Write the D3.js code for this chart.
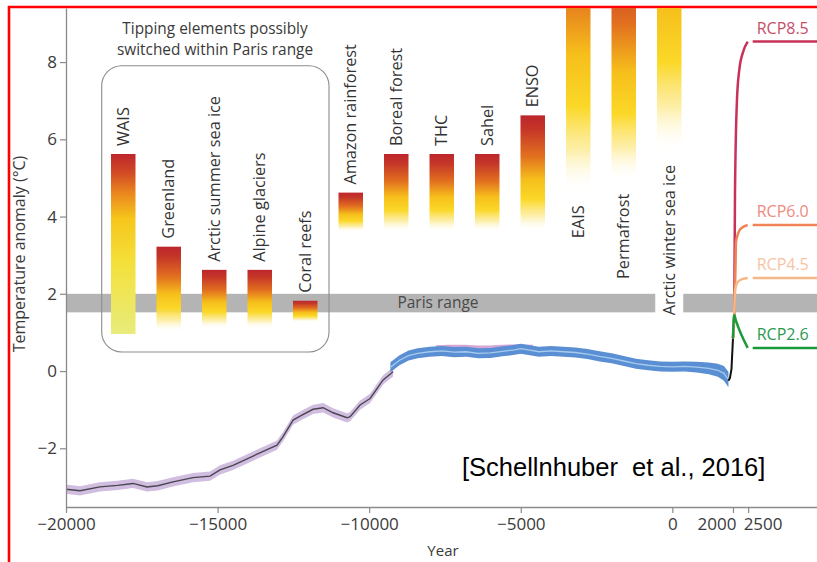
<!DOCTYPE html>
<html><head><meta charset="utf-8">
<script src="https://cdn.jsdelivr.net/npm/d3@7"></script>
<style>
body{margin:0;background:#fff}
svg{display:block}
</style>
</head><body><svg id="chart" width="817" height="562"></svg>
<script>
// ---------- data ----------
const elements = ["WAIS","Greenland","Arctic summer sea ice","Alpine glaciers","Coral reefs",
  "Amazon rainforest","Boreal forest","THC","Sahel","ENSO","EAIS","Permafrost","Arctic winter sea ice"];
const elementHigh = [5.62,3.22,2.62,2.62,1.82,4.62,5.62,5.62,5.62,6.62,12.6,11.2,14.0];
const elementLow  = [0.96,1.0,1.1,1.1,1.27,3.6,3.6,3.6,3.6,3.6,4.6,4.9,5.65];
const clippedElements = ["EAIS","Permafrost","Arctic winter sea ice"];
const parisRange = [1.52, 2.0];
const xTicks = [-20000,-15000,-10000,-5000,0,2000,2500];
const yTicks = [-2,0,2,4,6,8];

const deglacialYears = [-20000,-19540,-18880,-18300,-17790,-17330,-16970,-16470,-15810,-15250,-14920,-14490,-13830,-13040,-12840,-12510,-12220,-11850,-11520,-11190,-10730,-10630,-10300,-9970,-9540,-9210];
const deglacialTemp  = [-3.06,-3.10,-3.0,-2.96,-2.91,-3.0,-2.97,-2.87,-2.76,-2.72,-2.56,-2.44,-2.20,-1.92,-1.70,-1.27,-1.14,-0.99,-0.95,-1.08,-1.21,-1.18,-0.88,-0.71,-0.23,-0.02];

const overlapYears = [-7800,-7000,-6200,-5400,-4600];
const overlapTemp  = [0.55,0.56,0.54,0.57,0.56];

const holoceneYears = [-9300,-9000,-8700,-8400,-8000,-7600,-7200,-6800,-6400,-6000,-5600,-5200,-5000,-4700,-4400,-4000,-3600,-3200,-2800,-2400,-2000,-1600,-1200,-800,-400,0,400,800,1200,1500,1700,1850];
const holoceneTemp  = [0.10,0.28,0.40,0.46,0.50,0.52,0.49,0.50,0.46,0.47,0.51,0.55,0.58,0.54,0.50,0.52,0.50,0.48,0.44,0.38,0.33,0.26,0.19,0.15,0.12,0.11,0.12,0.10,0.07,0.02,-0.06,-0.22];
const holoceneSpread= [0.13,0.13,0.13,0.13,0.13,0.13,0.13,0.13,0.13,0.13,0.13,0.13,0.13,0.13,0.13,0.13,0.13,0.13,0.13,0.13,0.13,0.13,0.13,0.13,0.13,0.13,0.13,0.14,0.15,0.17,0.19,0.2];

const instrumentalYears = [1850,1900,1950,2000];
const instrumentalTemp  = [-0.25,-0.18,0.05,0.85];

const rcpNames = ["RCP8.5","RCP6.0","RCP4.5","RCP2.6"];
const rcpYears = [
  [2000,2040,2066,2130,2208,2350,2485],
  [2000,2040,2080,2100,2250,2485],
  [2000,2040,2070,2150,2300,2485],
  [2000,2040,2100,2485]
];
const rcpTemps = [
  [0.85,1.45,4.6,7.0,7.8,8.3,8.53],
  [0.85,1.45,2.6,3.35,3.68,3.78],
  [0.85,1.45,2.1,2.3,2.38,2.41],
  [0.85,1.45,1.3,0.6]
];
const rcpLineColors = ["#c8325a","#ef8456","#f7b888","#1a9a3a"];
const rcpTextColors = ["#c64d6a","#ee8a7e","#f6c4a4","#2a9a50"];

// ---------- setup ----------
const FONT = "'Open Sans','Noto Sans',sans-serif";
const svg = d3.select("#chart").style("font-family", FONT);
const W = 817, H = 562;
const x = d3.scaleLinear().domain([-20000, 4771]).range([66, 817]);
const y = d3.scaleLinear().domain([-3.52, 9.4]).range([507, 8]);
const band = d3.scaleBand().domain(elements).range([111, 681.5]).paddingInner(0.4615).paddingOuter(0);

const defs = svg.append("defs");
defs.append("clipPath").attr("id","plotClip").append("rect")
  .attr("x",66).attr("y",y(9.4)).attr("width",W-66).attr("height",y(-3.52)-y(9.4));

// gradients
const stdStops = [
  [0,"#bd262c",1],[0.12,"#c53628",1],[0.35,"#e2701f",1],[0.55,"#f6bf1b",1],
  [0.72,"#fbd828",1],[0.86,"#fce98c",0.75],[1,"#ffffff",0]];
const waisStops = [
  [0,"#bd262c",1],[0.1,"#d04824",1],[0.22,"#ea881e",1],[0.36,"#f6c61c",1],
  [0.6,"#f4e03a",1],[1,"#e8ec7c",1]];
elements.forEach((e,i)=>{
  const g = defs.append("linearGradient").attr("id","grad"+i)
    .attr("x1",0).attr("y1",0).attr("x2",0).attr("y2",1);
  (e==="WAIS"?waisStops:stdStops).forEach(s=>{
    g.append("stop").attr("offset",s[0]).attr("stop-color",s[1]).attr("stop-opacity",s[2]);
  });
});

// red frame
svg.append("path").attr("d",`M9,${H} L9,7 L${W},7`).attr("fill","none")
  .attr("stroke","#ff0000").attr("stroke-width",2.6);

// Paris range band (with gap at the Arctic winter sea ice label)
const gapC = band("Arctic winter sea ice") + band.bandwidth()/2;
const parisSegs = [[x(-20000), gapC-14],[gapC+14, W]];
svg.append("g").selectAll("rect").data(parisSegs).join("rect")
  .attr("x",d=>d[0]).attr("width",d=>d[1]-d[0])
  .attr("y",y(parisRange[1])).attr("height",y(parisRange[0])-y(parisRange[1]))
  .attr("fill","#b4b4b4");
svg.append("text").attr("x",438).attr("y",(y(parisRange[0])+y(parisRange[1]))/2)
  .attr("dy","0.35em").attr("text-anchor","middle").attr("font-size",15.5)
  .attr("fill","#4a4a4a").text("Paris range");

// rounded box
svg.append("rect").attr("x",101.7).attr("y",65.7).attr("width",227.3).attr("height",286.3)
  .attr("rx",20).attr("fill","none").attr("stroke","#8c8c8c").attr("stroke-width",1.1);
svg.append("text").attr("x",215).attr("text-anchor","middle").attr("font-size",15.4)
  .attr("fill","#3a3a3a")
  .selectAll("tspan").data(["Tipping elements possibly","switched within Paris range"]).join("tspan")
  .attr("x",215).attr("y",(d,i)=>33.5+i*21.5).text(d=>d);

// bars
const bars = svg.append("g").attr("clip-path","url(#plotClip)");
bars.selectAll("rect").data(elements).join("rect")
  .attr("x",d=>band(d)).attr("width",band.bandwidth())
  .attr("y",(d,i)=>y(elementHigh[i]))
  .attr("height",(d,i)=>y(elementLow[i])-y(elementHigh[i]))
  .attr("fill",(d,i)=>`url(#grad${i})`);

// bar labels
svg.append("g").selectAll("text").data(elements).join("text")
  .attr("transform",(d,i)=>{
    const cx = band(d)+band.bandwidth()/2;
    const clipped = clippedElements.includes(d);
    const yy = clipped ? y(elementLow[i])+12 : y(elementHigh[i])-8;
    return `translate(${cx},${yy}) rotate(-90)`;
  })
  .attr("text-anchor",d=>clippedElements.includes(d)?"end":"start")
  .attr("dy","0.35em").attr("font-size",16.3).attr("fill","#333")
  .text(d=>d);

// temperature curves
const lineGen = d3.line().x(d=>x(d[0])).y(d=>y(d[1]));
const areaGen = d3.area().x(d=>x(d[0])).y0(d=>y(d[1]-d[2])).y1(d=>y(d[1]+d[2]));

const degl = deglacialYears.map((yr,i)=>[yr,deglacialTemp[i],0.12]);
svg.append("path").attr("d",areaGen(degl)).attr("fill","#cbb6dc").attr("opacity",0.9);
const ovl = overlapYears.map((yr,i)=>[yr,overlapTemp[i],0.12]);
svg.append("path").attr("d",areaGen.curve(d3.curveMonotoneX)(ovl)).attr("fill","#d6a6d6");
areaGen.curve(d3.curveLinear);
svg.append("path").attr("d",lineGen(degl)).attr("fill","none").attr("stroke","#4a4650").attr("stroke-width",1.4);

const holo = holoceneYears.map((yr,i)=>[yr,holoceneTemp[i],holoceneSpread[i]]);
svg.append("path").attr("d",areaGen(holo)).attr("fill","#5b8fd3");
svg.append("path").attr("d",lineGen(holo)).attr("fill","none").attr("stroke","#a6cbee").attr("stroke-width",1.3);

const instr = instrumentalYears.map((yr,i)=>[yr,instrumentalTemp[i]]);
svg.append("path").attr("d",lineGen(instr)).attr("fill","none").attr("stroke","#111").attr("stroke-width",2);

// RCP scenarios
const rcpLine = d3.line().x(d=>x(d[0])).y(d=>y(d[1])).curve(d3.curveMonotoneX);
rcpNames.forEach((name,k)=>{
  const pts = rcpYears[k].map((yr,i)=>[yr,rcpTemps[k][i]]);
  const last = pts[pts.length-1];
  svg.append("path").attr("d",rcpLine(pts)).attr("fill","none")
    .attr("stroke",rcpLineColors[k]).attr("stroke-width",2.5);
  svg.append("line").attr("x1",x(last[0])+5).attr("x2",W)
    .attr("y1",y(last[1])).attr("y2",y(last[1]))
    .attr("stroke",rcpLineColors[k]).attr("stroke-width",2.5);
  svg.append("text").attr("x",x(last[0])+9).attr("y",y(last[1])-8)
    .attr("font-size",16).attr("fill",rcpTextColors[k]).text(name);
});

// axes
const yAxis = svg.append("g").attr("transform","translate(66,0)")
  .call(d3.axisLeft(y).tickValues(yTicks).tickSize(6).tickPadding(3).tickSizeOuter(0));
const xAxis = svg.append("g").attr("transform",`translate(0,${y(-3.52)})`)
  .call(d3.axisBottom(x).tickValues(xTicks).tickSize(6).tickPadding(5).tickSizeOuter(0)
    .tickFormat(d=>d3.format("")(d).replace("-","−")));
[yAxis,xAxis].forEach(a=>{
  a.attr("font-family",null).attr("font-size",null);
  a.select(".domain").attr("stroke","#8a8a8a").attr("stroke-width",1.3);
  a.selectAll(".tick line").attr("stroke","#8a8a8a").attr("stroke-width",1.2);
  a.selectAll(".tick text").style("font-family",FONT)
    .style("font-size","17px").attr("fill","#3a3a3a");
});
// the two close ticks near the present are spread apart
xAxis.selectAll(".tick").filter(d=>d===2000).select("text").attr("text-anchor","end").attr("x",3);
xAxis.selectAll(".tick").filter(d=>d===2500).select("text").attr("text-anchor","start").attr("x",-5);

svg.append("text").attr("transform","translate(25,254) rotate(-90)")
  .attr("text-anchor","middle").attr("font-size",16).attr("fill","#3a3a3a")
  .text("Temperature anomaly (°C)");
svg.append("text").attr("x",443).attr("y",556).attr("text-anchor","middle")
  .attr("font-size",15).attr("fill","#3a3a3a").text("Year");

// citation
svg.append("text").attr("x",462).attr("y",476)
  .style("font-family","'Liberation Sans',Arial,sans-serif")
  .attr("font-size",25.5).attr("fill","#000")
  .style("white-space","pre").text("[Schellnhuber  et al., 2016]");
</script>
</body></html>
